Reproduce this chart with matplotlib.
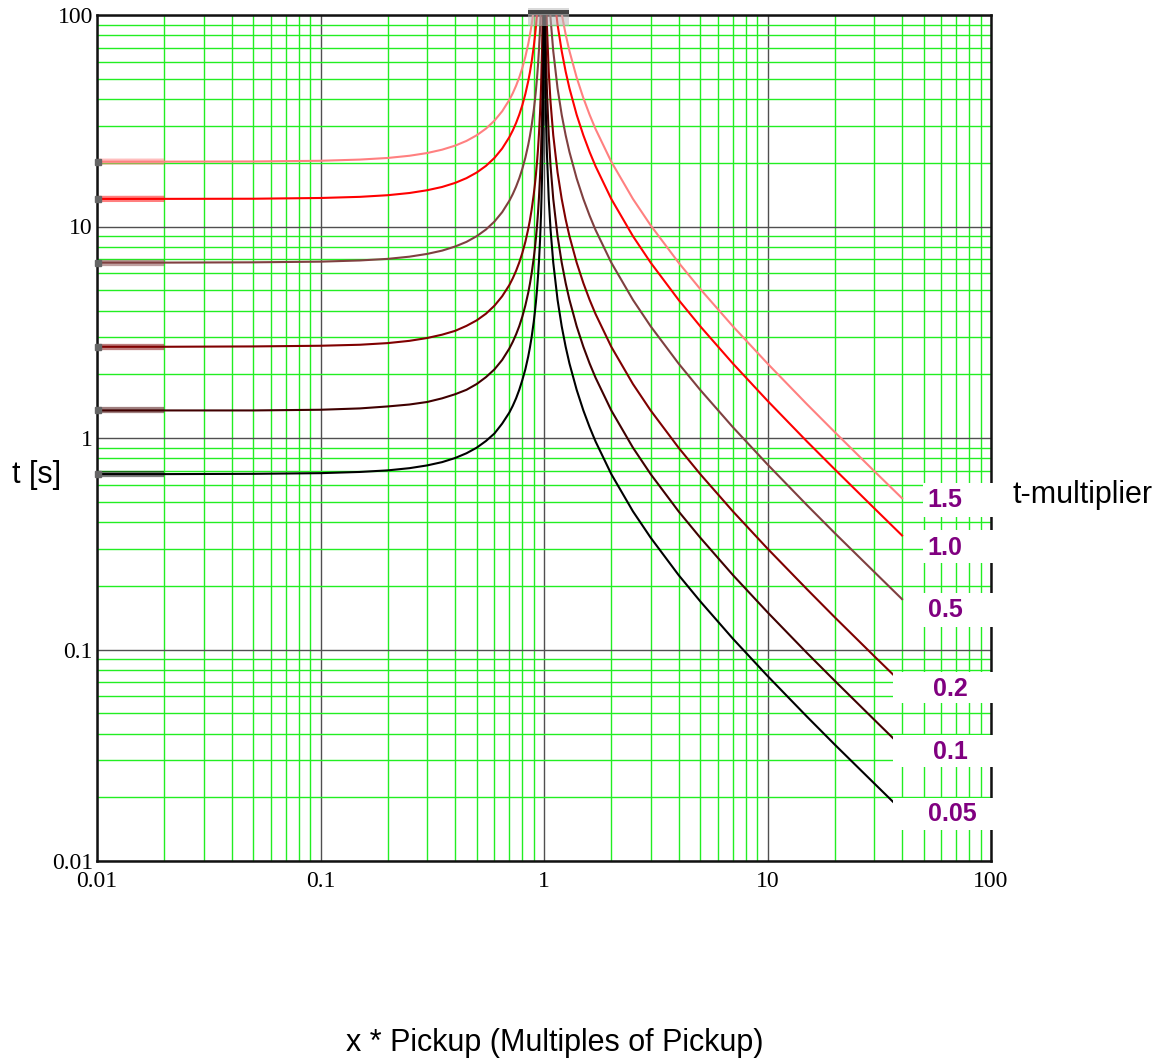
import matplotlib
matplotlib.use("Agg")
import matplotlib.pyplot as plt
from matplotlib.patches import Rectangle
from matplotlib.ticker import LogLocator, FixedLocator, NullFormatter

# multiplier labels and line colours, top to bottom
multipliers = ["1.5", "1.0", "0.5", "0.2", "0.1", "0.05"]
colors = ["#ff8080", "#ff0000", "#804040", "#800000", "#400000", "#000000"]

# reset branch (x < 1)
x_reset = [0.01, 0.02, 0.05, 0.1, 0.15, 0.2, 0.25, 0.3, 0.35, 0.4, 0.45, 0.5,
           0.55, 0.6, 0.65, 0.7, 0.725, 0.75, 0.775, 0.8, 0.825, 0.85, 0.865,
           0.88, 0.9, 0.91, 0.92, 0.93, 0.94, 0.95, 0.96, 0.97, 0.98, 0.985,
           0.99, 0.993, 0.995, 0.997]
reset_t15 = [20.25, 20.26, 20.30, 20.45, 20.72, 21.09, 21.60, 22.25, 23.08, 24.11,
             25.39, 27.0, 29.03, 31.64, 35.07, 39.71, 42.69, 46.29, 50.70, 56.25,
             63.41, 72.97, 80.43, 89.76, 106.6]
reset_t10 = [13.50, 13.51, 13.53, 13.64, 13.81, 14.06, 14.40, 14.84, 15.38, 16.07,
             16.93, 18.0, 19.35, 21.09, 23.38, 26.47, 28.46, 30.86, 33.80, 37.5,
             42.27, 48.65, 53.62, 59.84, 71.05, 78.53, 87.89, 99.93, 115.9]
reset_t05 = [6.75, 6.75, 6.77, 6.82, 6.91, 7.03, 7.20, 7.42, 7.69, 8.04, 8.46, 9.0,
             9.68, 10.55, 11.69, 13.24, 14.23, 15.43, 16.90, 18.75, 21.14, 24.32,
             26.81, 29.92, 35.53, 39.27, 43.95, 49.97, 57.96, 69.23, 86.12, 114.2]
reset_t02 = [2.70, 2.70, 2.71, 2.73, 2.76, 2.81, 2.88, 2.97, 3.08, 3.21, 3.39, 3.60,
             3.87, 4.22, 4.68, 5.29, 5.69, 6.17, 6.76, 7.50, 8.45, 9.73, 10.72,
             11.97, 14.21, 15.71, 17.58, 19.99, 23.18, 27.69, 34.45, 45.69, 68.18,
             90.67, 135.7]
reset_t01 = [1.35, 1.35, 1.35, 1.36, 1.38, 1.41, 1.44, 1.48, 1.54, 1.61, 1.69, 1.80,
             1.94, 2.11, 2.34, 2.65, 2.85, 3.09, 3.38, 3.75, 4.23, 4.86, 5.36, 5.98,
             7.11, 7.85, 8.79, 9.99, 11.59, 13.85, 17.22, 22.84, 34.09, 45.34,
             67.84, 96.77, 135.3]
reset_t005 = [0.675, 0.675, 0.677, 0.682, 0.691, 0.703, 0.720, 0.742, 0.769, 0.804,
              0.847, 0.90, 0.968, 1.05, 1.17, 1.32, 1.42, 1.54, 1.69, 1.88, 2.11,
              2.43, 2.68, 2.99, 3.55, 3.93, 4.39, 5.00, 5.80, 6.92, 8.61, 11.42,
              17.05, 22.67, 33.92, 48.38, 67.65, 112.6]

# trip branch (x > 1), listed from x = 40 down towards 1
x_trip = [40, 30, 20, 15, 10, 7, 5, 4, 3, 2.5, 2, 1.7, 1.6, 1.5, 1.4, 1.3, 1.25,
          1.2, 1.15, 1.1, 1.07, 1.05, 1.03, 1.02, 1.015, 1.01, 1.007, 1.005, 1.003]
trip_t15 = [0.519, 0.698, 1.066, 1.446, 2.25, 3.375, 5.063, 6.75, 10.13, 13.5,
            20.25, 28.93, 33.75, 40.5, 50.63, 67.5, 81.0, 101.3]
trip_t10 = [0.346, 0.466, 0.711, 0.964, 1.5, 2.25, 3.375, 4.5, 6.75, 9.0, 13.5,
            19.29, 22.5, 27.0, 33.75, 45.0, 54.0, 67.5, 90.0, 135.0]
trip_t05 = [0.173, 0.233, 0.355, 0.482, 0.75, 1.125, 1.688, 2.25, 3.375, 4.5,
            6.75, 9.64, 11.25, 13.5, 16.88, 22.5, 27.0, 33.75, 45.0, 67.5, 96.4,
            135.0]
trip_t02 = [0.0692, 0.0931, 0.142, 0.193, 0.30, 0.45, 0.675, 0.90, 1.35, 1.80,
            2.70, 3.86, 4.5, 5.40, 6.75, 9.0, 10.8, 13.5, 18.0, 27.0, 38.6, 54.0,
            90.0, 135.0]
trip_t01 = [0.0346, 0.0466, 0.0711, 0.0964, 0.15, 0.225, 0.338, 0.45, 0.675, 0.90,
            1.35, 1.93, 2.25, 2.70, 3.375, 4.5, 5.4, 6.75, 9.0, 13.5, 19.3, 27.0,
            45.0, 67.5, 90.0, 135.0]
trip_t005 = [0.0173, 0.0233, 0.0355, 0.0482, 0.075, 0.1125, 0.169, 0.225, 0.338,
             0.45, 0.675, 0.964, 1.125, 1.35, 1.69, 2.25, 2.7, 3.375, 4.5, 6.75,
             9.64, 13.5, 22.5, 33.75, 45.0, 67.5, 96.4, 135.0]

reset_curves = [reset_t15, reset_t10, reset_t05, reset_t02, reset_t01, reset_t005]
trip_curves = [trip_t15, trip_t10, trip_t05, trip_t02, trip_t01, trip_t005]

W, H = 1174, 1063
fig = plt.figure(figsize=(W / 100, H / 100), dpi=100)
ax_l, ax_r, ax_t, ax_b = 97, 991, 15, 861
ax = fig.add_axes([ax_l / W, 1 - ax_b / H, (ax_r - ax_l) / W, (ax_b - ax_t) / H])
ax.set_xscale("log")
ax.set_yscale("log")
ax.set_xlim(0.01, 100)
ax.set_ylim(0.01, 100)


def px_to_axes(px, py):
    return (px - ax_l) / (ax_r - ax_l), 1 - (py - ax_t) / (ax_b - ax_t)


# grid: green minor, dark major
ax.xaxis.set_minor_locator(LogLocator(base=10, subs=range(2, 10)))
ax.yaxis.set_minor_locator(LogLocator(base=10, subs=range(2, 10)))
ax.xaxis.set_minor_formatter(NullFormatter())
ax.yaxis.set_minor_formatter(NullFormatter())
ax.grid(True, which="minor", color="#22ee22", lw=1.0, zorder=0)
ax.grid(True, which="major", color="#505050", lw=1.0, zorder=0)
ax.set_axisbelow(True)

ax.xaxis.set_major_locator(FixedLocator([0.01, 0.1, 1, 10, 100]))
ax.yaxis.set_major_locator(FixedLocator([0.01, 0.1, 1, 10, 100]))
ax.set_xticklabels(["0.01", "0.1", "1", "10", "100"])
ax.set_yticklabels(["0.01", "0.1", "1", "10", "100"])
ax.tick_params(which="both", length=0)
ax.tick_params(axis="x", pad=7)
ax.tick_params(axis="y", pad=3)
for lab in ax.get_xticklabels() + ax.get_yticklabels():
    lab.set_fontfamily("Liberation Serif")
    lab.set_fontsize(17)

for sp in ax.spines.values():
    sp.set_color("#111111")
    sp.set_linewidth(1.8)

for col, rc, tc in zip(colors, reset_curves, trip_curves):
    ax.plot(x_reset[:len(rc)], rc, color=col, lw=1.5, zorder=3)
    ax.plot(x_trip[:len(tc)], tc, color=col, lw=1.5, zorder=3)
    # thick faded start segment on the left edge
    ax.plot([0.01, 0.02], [rc[0], rc[1]], color=col, lw=4.5, alpha=0.5,
            solid_capstyle="butt", zorder=2)
    ax.plot([0.0101], [rc[0]], marker="s", ms=4, color="#666666", zorder=4,
            clip_on=False)

# smudge at the top near x = 1
ax.add_patch(Rectangle((0.85, 89.0), 1.30 - 0.85, 108 - 89.0, facecolor="#bbbbbb",
                       alpha=0.55, edgecolor="none", zorder=5, clip_on=False))
ax.add_patch(Rectangle((0.85, 101.0), 1.30 - 0.85, 5.0, facecolor="#444444",
                       edgecolor="none", zorder=6, clip_on=False))

# label boxes at the right end of the curves
boxes = [(923, 483, 517), (923, 530, 563), (923, 593, 627),
         (893, 672, 703), (893, 735, 767), (893, 798, 830)]
label_pos = [(945, 500), (945, 548), (945, 610), (950, 689), (950, 752), (952, 814)]
for lab, (bx, by0, by1), (tx, ty) in zip(multipliers, boxes, label_pos):
    x0, y1 = px_to_axes(bx, by0)
    x1, y0 = px_to_axes(995, by1)
    ax.add_patch(Rectangle((x0, y0), x1 - x0, y1 - y0, transform=ax.transAxes,
                           facecolor="white", edgecolor="none", zorder=7,
                           clip_on=False))
    u, v = px_to_axes(tx, ty)
    ax.text(u, v, lab, transform=ax.transAxes, ha="center", va="center",
            fontsize=18, fontweight="bold", color="#800080",
            family="Liberation Sans", zorder=8)

fig.text(1013 / W, 1 - 495 / H, "t-multiplier", ha="left", va="center",
         fontsize=22, family="Liberation Sans")
fig.text(12 / W, 1 - 475 / H, "t [s]", ha="left", va="center",
         fontsize=22, family="Liberation Sans")
fig.text(555 / W, 1 - 1043 / H, "x * Pickup (Multiples of Pickup)", ha="center",
         va="center", fontsize=22, family="Liberation Sans")

fig.savefig("out.png", dpi=100)
